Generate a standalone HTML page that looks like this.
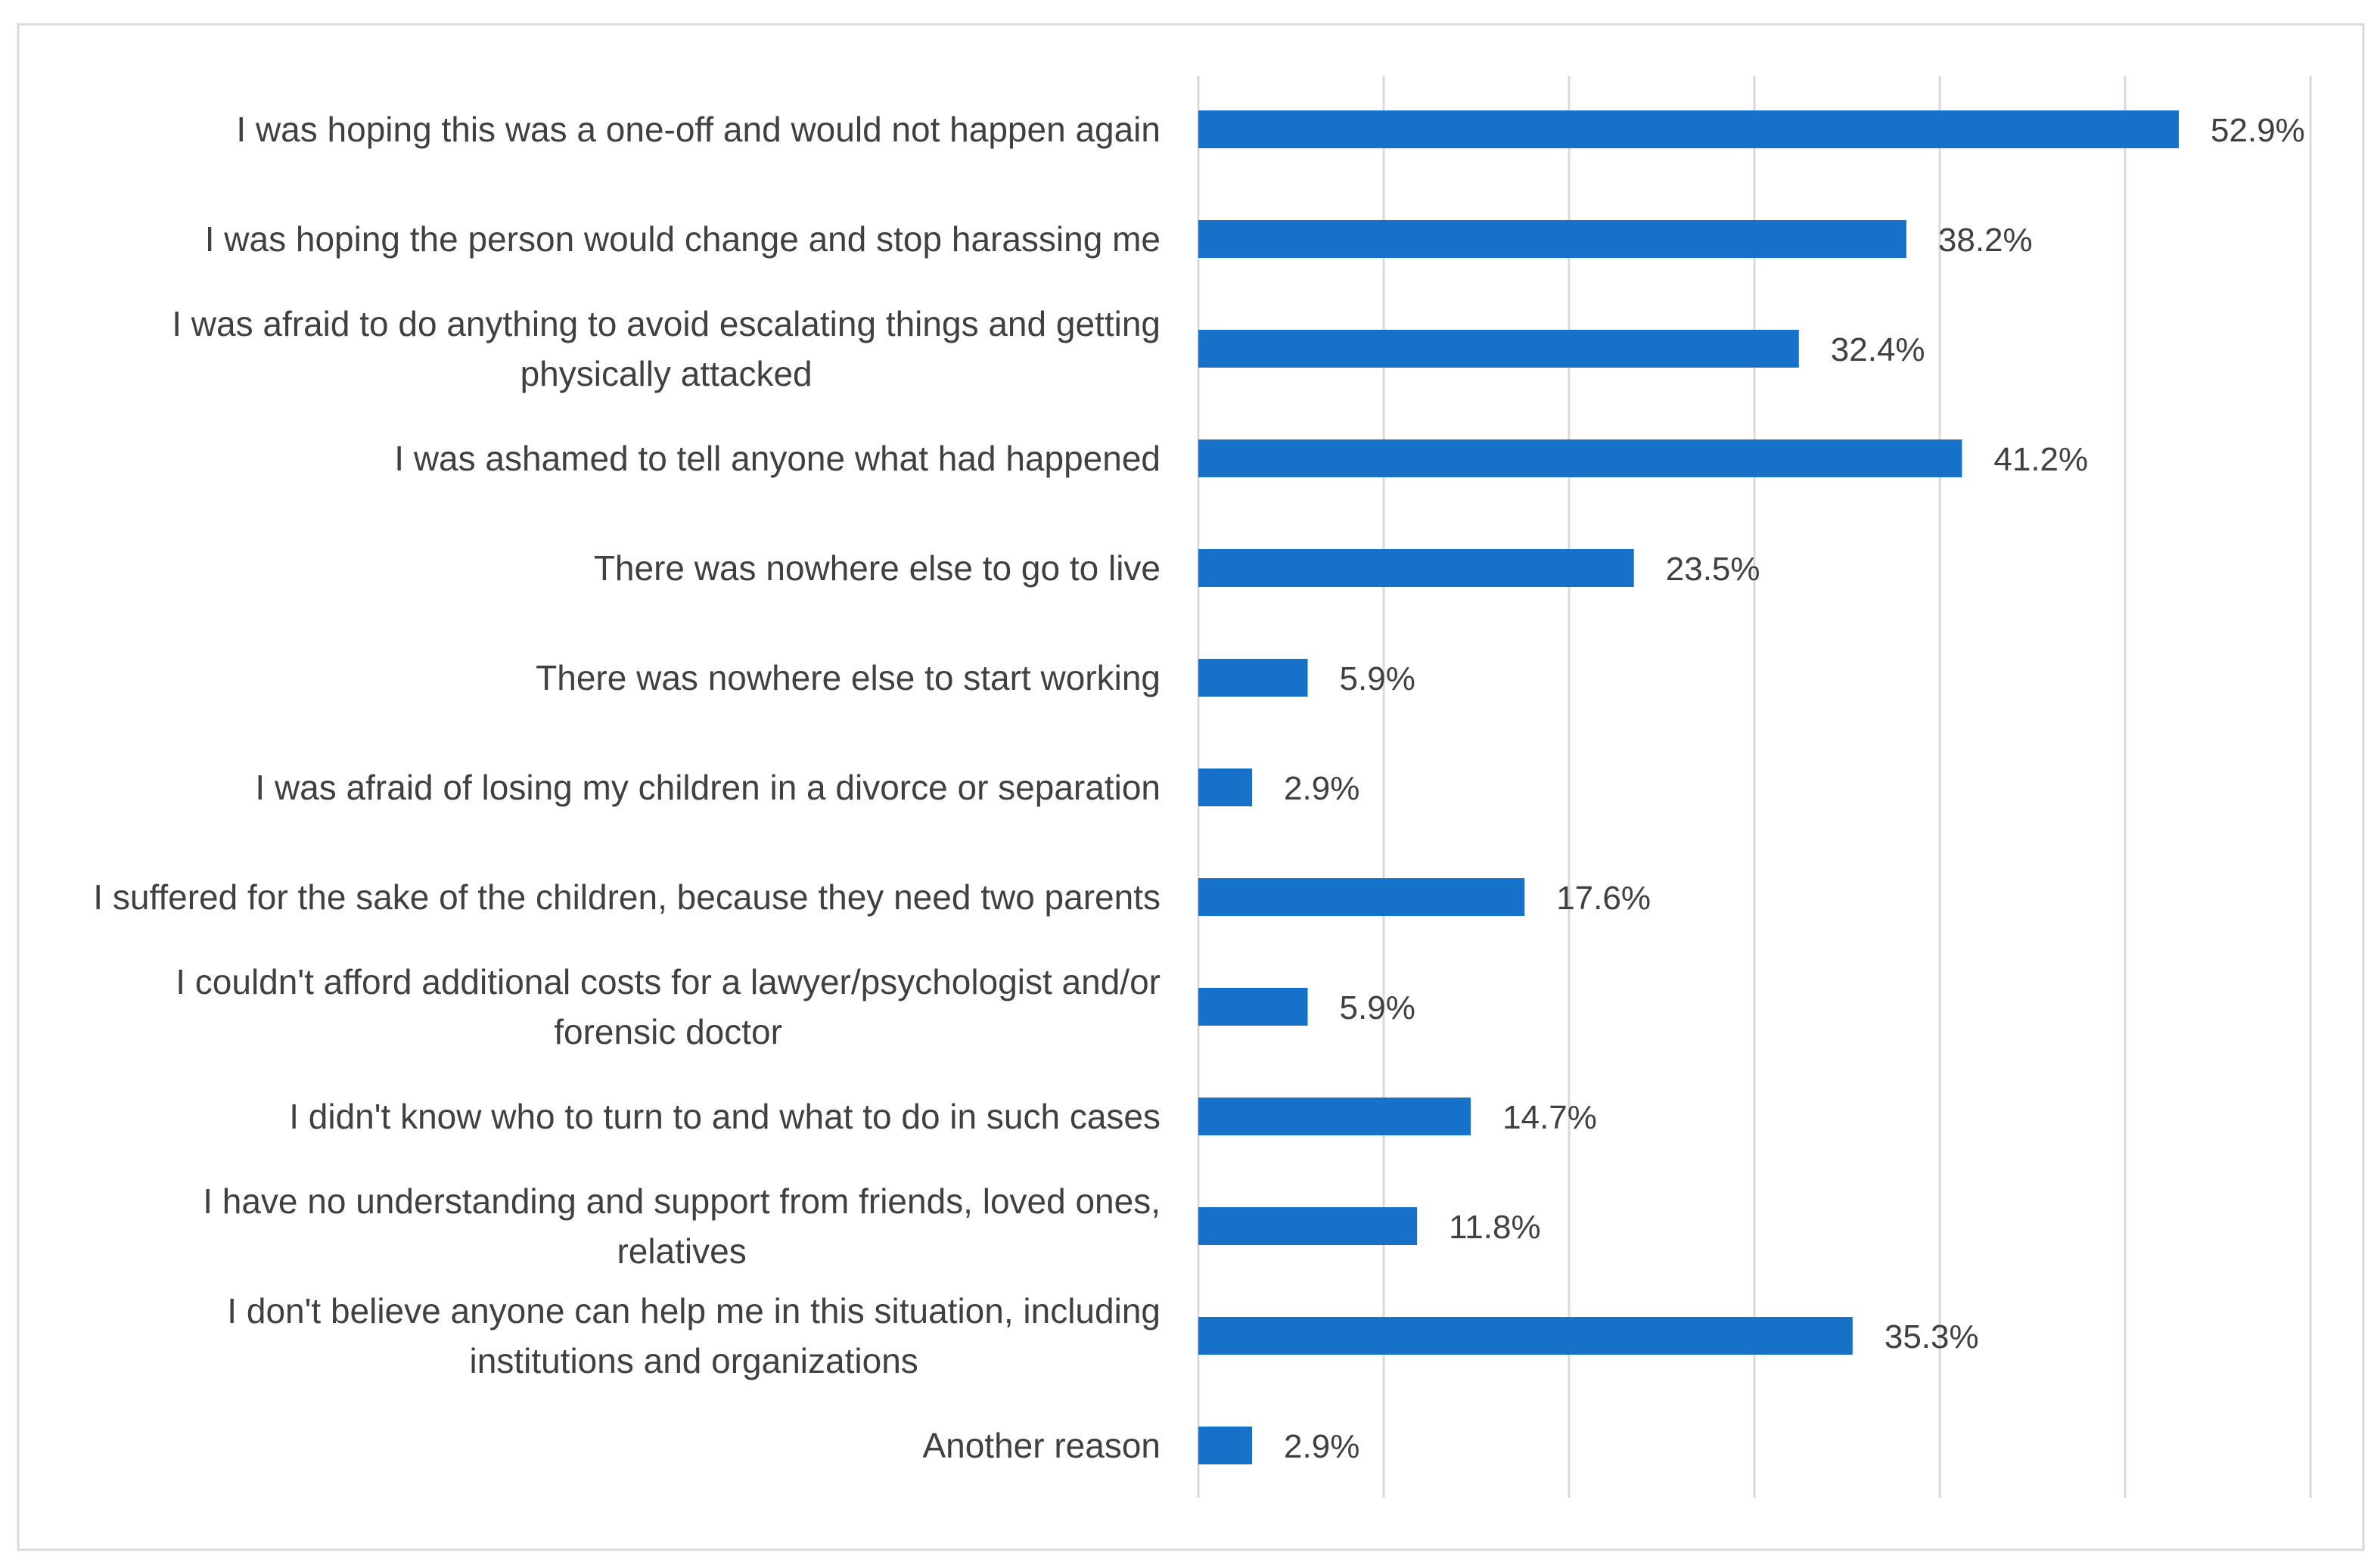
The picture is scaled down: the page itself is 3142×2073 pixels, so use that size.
<!DOCTYPE html>
<html><head><meta charset="utf-8"><style>
html,body{margin:0;padding:0;background:#fff;}
svg{display:block;font-family:"Liberation Sans",Calibri,sans-serif;}
</style></head><body>
<svg id="chart" width="3142" height="2073" viewBox="0 0 3142 2073">
<rect x="24" y="32" width="3100" height="2017" fill="#fff" stroke="#d9d9d9" stroke-width="3"/>
<g id="grid"></g><g id="bars"></g><g id="labels"></g><g id="values"></g>
</svg>
<script>
const categories = [
 ["I was hoping this was a one-off and would not happen again"],
 ["I was hoping the person would change and stop harassing me"],
 ["I was afraid to do anything to avoid escalating things and getting","physically attacked"],
 ["I was ashamed to tell anyone what had happened"],
 ["There was nowhere else to go to live"],
 ["There was nowhere else to start working"],
 ["I was afraid of losing my children in a divorce or separation"],
 ["I suffered for the sake of the children, because they need two parents"],
 ["I couldn't afford additional costs for a lawyer/psychologist and/or","forensic doctor"],
 ["I didn't know who to turn to and what to do in such cases"],
 ["I have no understanding and support from friends, loved ones,","relatives"],
 ["I don't believe anyone can help me in this situation, including","institutions and organizations"],
 ["Another reason"]
];
const values = [52.9,38.2,32.4,41.2,23.5,5.9,2.9,17.6,5.9,14.7,11.8,35.3,2.9];
const gridTicks = [0,10,20,30,40,50,60];

const NS="http://www.w3.org/2000/svg";
const x0=1584, pxPer=24.5, y0=171, step=145, barH=50;
const xs=v=>x0+v*pxPer, ys=i=>y0+i*step;
function mk(tag,attrs,parent){const e=document.createElementNS(NS,tag);for(const k in attrs)e.setAttribute(k,attrs[k]);parent.appendChild(e);return e;}
const g=document.getElementById('grid'),b=document.getElementById('bars'),l=document.getElementById('labels'),vv=document.getElementById('values');
gridTicks.forEach(t=>{
 const e=mk('line',{x1:xs(t),x2:xs(t),y1:100,y2:1980,stroke:'#d9d9d9','stroke-width':3},g);
 
 
});
values.forEach((v,i)=>{
 const r=mk('rect',{x:xs(0),y:ys(i)-barH/2,width:xs(v)-xs(0),height:barH,fill:'#1672c8'},b);
 
 
 const t=mk('text',{x:xs(v)+42,y:ys(i)+16,'font-size':44,fill:'#404040'},vv);
 t.textContent=v.toFixed(1)+'%';
 
 
});
categories.forEach((lines,i)=>{
 const right=1534;
 if(lines.length===1){
  const t=mk('text',{x:right,y:ys(i)+16,'font-size':46,fill:'#404040','text-anchor':'end'},l);
  t.textContent=lines[0];
  
  
 } else {
  const t1=mk('text',{x:right,y:ys(i)-17,'font-size':46,fill:'#404040','text-anchor':'end'},l);
  t1.textContent=lines[0];
  
  
  const w=t1.getComputedTextLength();
  const t2=mk('text',{x:right-w/2,y:ys(i)+49,'font-size':46,fill:'#404040','text-anchor':'middle'},l);
  t2.textContent=lines[1];
  
  
 }
});
</script>
</body></html>
